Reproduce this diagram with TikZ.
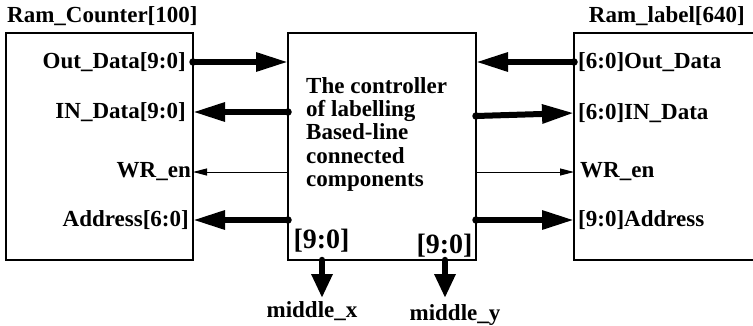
\documentclass[tikz,border=0pt]{standalone}
\usepackage{fontspec}
\setmainfont{Liberation Serif}
\usetikzlibrary{arrows.meta}
\tikzset{
  unit/.style={draw, line width=1.2pt, inner sep=0pt, outer sep=0pt},
  lbl/.style={inner sep=0pt, font=\fontsize{23}{23.3}\selectfont\bfseries},
  biglbl/.style={inner sep=0pt, font=\fontsize{28}{28}\selectfont\bfseries},
  bus/.style={line width=6pt, line cap=round, -{Triangle[length=32pt,width=18pt]}},
  busdown/.style={line width=6.5pt, line cap=round, -{Triangle[length=24pt,width=20pt]}},
  wire/.style={line width=1pt, -{Triangle[length=14pt,width=7pt]}},
  busdot/.style={fill, circle, inner sep=0pt, minimum size=7.5pt}
}
\begin{document}
\begin{tikzpicture}[x=1pt, y=-1pt]
\useasboundingbox (0,0) rectangle (753,325);

% the three blocks
\node[unit, minimum width=187pt, minimum height=227pt] (ramc) at (99.5,146.5) {};
\node[unit, minimum width=188pt, minimum height=227pt] (ctrl) at (382,146.5) {};
\node[unit, minimum width=184pt, minimum height=227pt] (raml) at (666,146.5) {};

% block titles
\node[lbl, anchor=base west] (tc) at (7,22) {Ram\_Counter[100]};
\node[lbl, anchor=base east] (tl) at (745,22) {Ram\_label[640]};

% controller description
\node[lbl, anchor=north west, align=left] (desc) at (306,77)
  {The controller\\of labelling\\Based-line\\connected\\components};

% port labels of the counter RAM
\node[lbl, anchor=east] (c1) at (186,62) {Out\_Data[9:0]};
\node[lbl, anchor=east] (c2) at (186,112) {IN\_Data[9:0]};
\node[lbl, anchor=east] (c3) at (191,172) {WR\_en};
\node[lbl, anchor=east] (c4) at (189,220) {Address[6:0]};

% port labels of the label RAM
\node[lbl, anchor=west] (l1) at (578,62) {[6:0]Out\_Data};
\node[lbl, anchor=west] (l2) at (578,113) {[6:0]IN\_Data};
\node[lbl, anchor=west] (l3) at (580,172) {WR\_en};
\node[lbl, anchor=west] (l4) at (578,220) {[9:0]Address};

% bus widths of the outputs
\node[biglbl] (w1) at (321.5,241) {[9:0]};
\node[biglbl] (w2) at (444.5,246) {[9:0]};

% output names
\node[lbl, anchor=base] (mx) at (312,317) {middle\_x};
\node[lbl, anchor=base] (my) at (455,320) {middle\_y};

% connection points
\coordinate (p1) at (c1.east -| ramc.east);
\coordinate (p2) at (c2.east -| ctrl.west);
\coordinate (p4) at (c4.east -| ctrl.west);
\coordinate (q1) at (l1.west -| raml.west);
\coordinate (q2) at ([yshift=-3pt]l2.west -| ctrl.east);
\coordinate (q4) at (l4.west -| ctrl.east);
\coordinate (dx) at (322,260);
\coordinate (dy) at (445,260);
\coordinate (ex) at (322,298);
\coordinate (ey) at (445,298);

% buses between the counter RAM and the controller
\draw[bus] (p1) -- (c1.east -| ctrl.west);
\draw[bus] (p2) -- (c2.east -| ramc.east);
\draw[wire] (c3.east -| ctrl.west) -- (c3.east -| ramc.east);
\draw[bus] (p4) -- (c4.east -| ramc.east);

% buses between the controller and the label RAM
\draw[bus] (q1) -- (l1.west -| ctrl.east);
\draw[bus] (q2) -- (l2.west -| raml.west);
\draw[wire] (l3.west -| ctrl.east) -- (l3.west -| raml.west);
\draw[bus] (q4) -- (l4.west -| raml.west);

% outputs of the controller
\draw[busdown] (dx) -- (ex);
\draw[busdown] (dy) -- (ey);

% start dots of the buses
\foreach \p in {p1,p2,p4,q1,q2,q4}
  \node[busdot] at (\p) {};
\end{tikzpicture}
\end{document}
